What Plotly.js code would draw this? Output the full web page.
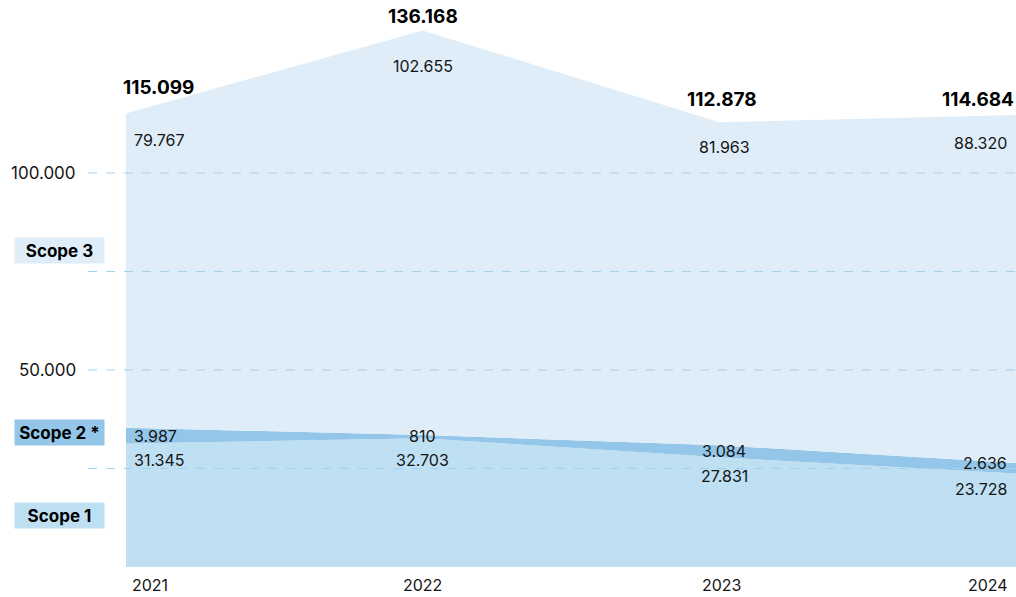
<!DOCTYPE html>
<html>
<head>
<meta charset="utf-8">
<script src="https://cdn.plot.ly/plotly-3.0.1.min.js"></script>
<style>
html,body{margin:0;padding:0;background:#fff;}
#chart{width:1016px;height:597px;}
</style>
</head>
<body>
<div id="chart"></div>
<script>
// ---- data ----
const years = [2021, 2022, 2023, 2024];
const yearLabels = ["2021", "2022", "2023", "2024"];
const scope1 = [31345, 32703, 27831, 23728];
const scope2 = [3987, 810, 3084, 2636];
const scope3 = [79767, 102655, 81963, 88320];
const totals = [115099, 136168, 112878, 114684];
const seriesNames = ["Scope 1", "Scope 2 *", "Scope 3"];
const yTickVals = [50000, 100000];
const yTickText = ["50.000", "100.000"];
const gridVals = [25000, 50000, 75000, 100000];

// ---- style ----
const FONT = "Inter, 'Open Sans', sans-serif";
const C1 = "#bfdff2", C2 = "#93c6e8", C3 = "#deedf8";
const TXT = "#151515";
function fmt(v){ return v.toLocaleString("de-DE"); }

const traces = [
  {x: years, y: scope1, name: seriesNames[0], stackgroup: "s", mode: "none", fillcolor: C1, line:{width:0}, hoverinfo:"skip"},
  {x: years, y: scope2, name: seriesNames[1], stackgroup: "s", mode: "none", fillcolor: C2, line:{width:0}, hoverinfo:"skip"},
  {x: years, y: scope3, name: seriesNames[2], stackgroup: "s", mode: "none", fillcolor: C3, line:{width:0}, hoverinfo:"skip"}
];

// horizontal alignment per column
const xa = ["left", "center", "center", "right"];
const xs = [6, 0, 5, -7];

const annotations = [];
years.forEach((yr, i) => {
  // totals (bold)
  annotations.push({x: yr, y: totals[i], xref:"x", yref:"y", text: "<b>"+fmt(totals[i])+"</b>", showarrow:false,
    xanchor: xa[i], yanchor:"middle", xshift: [-5,0,3,0][i], yshift: [26,14,23,16][i],
    font:{family:FONT, size:19, color:"#000"}});
  // scope 3 values
  annotations.push({x: yr, y: totals[i], xref:"x", yref:"y", text: fmt(scope3[i]), showarrow:false,
    xanchor: xa[i], yanchor:"middle", xshift: xs[i], yshift: [-27,-36,-25,-28][i],
    font:{family:FONT, size:16, color:TXT}});
  // scope 2 values
  annotations.push({x: yr, y: scope1[i] + scope2[i]/2, xref:"x", yref:"y", text: fmt(scope2[i]), showarrow:false,
    xanchor: xa[i], yanchor:"middle", xshift: xs[i], yshift: [0,1,0,5][i],
    font:{family:FONT, size:16, color:TXT}});
  // scope 1 values
  annotations.push({x: yr, y: scope1[i], xref:"x", yref:"y", text: fmt(scope1[i]), showarrow:false,
    xanchor: xa[i], yanchor:"middle", xshift: xs[i], yshift: [-17,-22,-19,-15][i],
    font:{family:FONT, size:16, color:TXT}});
  // x labels
  annotations.push({x: yr, y: 0, xref:"x", yref:"paper", text: yearLabels[i], showarrow:false,
    xanchor: xa[i], yanchor:"bottom", xshift: [4,0,3,-6][i], yshift: -30,
    font:{family:FONT, size:16, color:TXT}});
});

// legend boxes
const legendY = [0.090, 0.238, 0.559];
const legendC = [C1, C2, C3];
seriesNames.forEach((n, i) => {
  annotations.push({xref:"paper", yref:"paper", x: (14-126)/890, y: legendY[i], xanchor:"left", yanchor:"middle",
    text: "<b>"+n+"</b>", showarrow:false, bgcolor: legendC[i], width: 89, height: 25, borderpad: 0, align:"center",
    font:{family:FONT, size:17, color:"#000"}});
});

// y tick labels
yTickVals.forEach((v, i) => {
  annotations.push({xref:"paper", yref:"y", x: (78-126)/890, y: v, xanchor:"right", yanchor:"middle",
    text: yTickText[i], showarrow:false, font:{family:FONT, size:17, color:TXT}});
});

const shapes = gridVals.map(v => ({type:"line", xref:"paper", yref:"y", x0:(88-126)/890, x1:1, y0:v, y1:v,
  layer:"above", line:{color:"#a6d1ec", width:1, dash:"dash"}}));

const layout = {
  width: 1016, height: 597,
  margin: {l:126, r:0, t:0, b:30},
  paper_bgcolor:"#fff", plot_bgcolor:"#fff",
  showlegend:false,
  xaxis:{range:[2021, 2024], showgrid:false, zeroline:false, showticklabels:false, showline:false, ticks:""},
  yaxis:{range:[0, 143900], showgrid:false, zeroline:false, showticklabels:false, showline:false, ticks:""},
  annotations, shapes,
  font:{family:FONT}
};

Plotly.newPlot("chart", traces, layout, {displayModeBar:false, staticPlot:true});
</script>
</body>
</html>
